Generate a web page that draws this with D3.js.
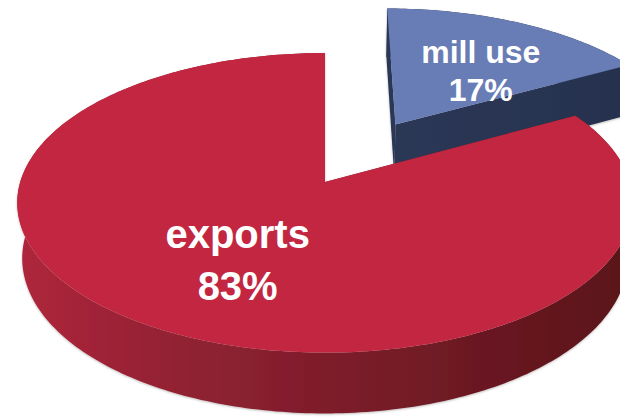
<!DOCTYPE html>
<html>
<head>
<meta charset="utf-8">
<script src="https://cdn.jsdelivr.net/npm/d3@7"></script>
<style>
  html, body { margin: 0; padding: 0; background: #ffffff; }
  svg { display: block; }
</style>
</head>
<body>
<svg id="chart" width="620" height="417"></svg>
<script>
// Slices of the pie
const categories = ["mill use", "exports"];
const shares = [17, 83];
const shareLabels = ["17%", "83%"];

// Look of each slice
const topColors = ["#687bb5", "#c2283f"];
const explodeBy = [0.48, 0];

const svg = d3.select("#chart");
const W = 620, H = 417;

// Perspective camera looking down on a unit-radius disc lying in a plane.
// World coords: x to the right, v away from the viewer, h up.
const cam = { x0: 325, y0: 182, f: 1920, dist: 6.3, sinT: 0.482 };
cam.cosT = Math.sqrt(1 - cam.sinT * cam.sinT);
const thickness = 0.21;

function project(x, v, h) {
  const zc = cam.dist - h * cam.sinT + v * cam.cosT;
  const yc = h * cam.cosT + v * cam.sinT;
  return [cam.x0 + cam.f * x / zc, cam.y0 - cam.f * yc / zc];
}

const pie = d3.pie().sort(null).value(d => d);
const arcs = pie(shares);

const line = d3.line();

// Gradients for the side walls
const defs = svg.append("defs");
const redSide = defs.append("linearGradient")
  .attr("id", "redSide").attr("gradientUnits", "userSpaceOnUse")
  .attr("x1", 0).attr("y1", 0).attr("x2", W).attr("y2", 0);
redSide.append("stop").attr("offset", 0).attr("stop-color", "#b2263c");
redSide.append("stop").attr("offset", 0.3).attr("stop-color", "#902232");
redSide.append("stop").attr("offset", 0.65).attr("stop-color", "#741b27");
redSide.append("stop").attr("offset", 1).attr("stop-color", "#5a1519");

const blueSide = defs.append("linearGradient")
  .attr("id", "blueSide").attr("gradientUnits", "userSpaceOnUse")
  .attr("x1", 380).attr("y1", 0).attr("x2", W).attr("y2", 0);
blueSide.append("stop").attr("offset", 0).attr("stop-color", "#2b3856");
blueSide.append("stop").attr("offset", 1).attr("stop-color", "#27324e");

const sideFills = ["url(#blueSide)", "url(#redSide)"];

const shadow = defs.append("filter").attr("id", "soft")
  .attr("x", "-5%").attr("y", "-5%").attr("width", "110%").attr("height", "110%");
shadow.append("feDropShadow").attr("dx", 0).attr("dy", 1).attr("stdDeviation", 1.2)
  .attr("flood-color", "#000").attr("flood-opacity", 0.25);

const camV = -cam.dist * cam.cosT; // camera position along v

function sliceGeometry(a, i) {
  const mid = (a.startAngle + a.endAngle) / 2;
  const ox = explodeBy[i] * Math.sin(mid);
  const ov = explodeBy[i] * Math.cos(mid);
  const steps = Math.max(2, Math.ceil((a.endAngle - a.startAngle) / (Math.PI / 180)));
  const angles = d3.range(steps + 1).map(k => a.startAngle + (a.endAngle - a.startAngle) * k / steps);
  const rimTop = angles.map(t => project(ox + Math.sin(t), ov + Math.cos(t), 0));
  const rimBot = angles.map(t => project(ox + Math.sin(t), ov + Math.cos(t), -thickness));
  const cTop = project(ox, ov, 0);
  const cBot = project(ox, ov, -thickness);

  function cutFace(t, sign) {
    // outward normal of the radial wall
    const nx = sign * Math.cos(t), nv = -sign * Math.sin(t);
    const px = ox + 0.5 * Math.sin(t), pv = ov + 0.5 * Math.cos(t);
    const facing = nx * (0 - px) + nv * (camV - pv) > 0;
    const pTop = project(ox + Math.sin(t), ov + Math.cos(t), 0);
    const pBot = project(ox + Math.sin(t), ov + Math.cos(t), -thickness);
    return { facing, pts: [cTop, pTop, pBot, cBot] };
  }
  const cuts = [cutFace(a.startAngle, -1), cutFace(a.endAngle, 1)];
  return {
    mid, ox, ov,
    top: [cTop, ...rimTop],
    rim: [...rimTop, ...rimBot.slice().reverse()],
    backCuts: cuts.filter(c => !c.facing).map(c => c.pts),
    frontCuts: cuts.filter(c => c.facing).map(c => c.pts)
  };
}

const geoms = arcs.map(sliceGeometry);

const gPie = svg.append("g").attr("filter", "url(#soft)");

// Far slice first, near slice last
arcs.forEach((a, i) => {
  const g = gPie.append("g").attr("class", "slice slice-" + i);
  const geo = geoms[i];
  geo.backCuts.forEach(p => g.append("path").attr("d", line(p) + "Z").attr("fill", sideFills[i]));
  g.append("path").attr("d", line(geo.rim) + "Z").attr("fill", sideFills[i]);
  geo.frontCuts.forEach(p => g.append("path").attr("d", line(p) + "Z").attr("fill", sideFills[i]));
  g.append("path").attr("d", line(geo.top) + "Z").attr("fill", topColors[i]);
});

// Labels placed on the top face of each slice
const labelRadius = [0.62, 0.55];
const labelSize = [32, 40];
const labelGap = [38, 52];
const labelLift = [4, -8];

arcs.forEach((a, i) => {
  const geo = geoms[i];
  const r = labelRadius[i];
  const [lx, ly] = project(geo.ox + r * Math.sin(geo.mid), geo.ov + r * Math.cos(geo.mid), 0);
  const t = svg.append("text")
    .attr("text-anchor", "middle")
    .attr("font-family", "'Liberation Sans', Arial, sans-serif")
    .attr("font-weight", "bold")
    .attr("font-size", labelSize[i])
    .attr("fill", "#ffffff");
  t.append("tspan").attr("x", lx + (i === 0 ? 5 : 4)).attr("y", ly + labelLift[i]).text(categories[i]);
  t.append("tspan").attr("x", lx + (i === 0 ? 5 : 4)).attr("y", ly + labelLift[i] + labelGap[i]).text(shareLabels[i]);
});
</script>
</body>
</html>
